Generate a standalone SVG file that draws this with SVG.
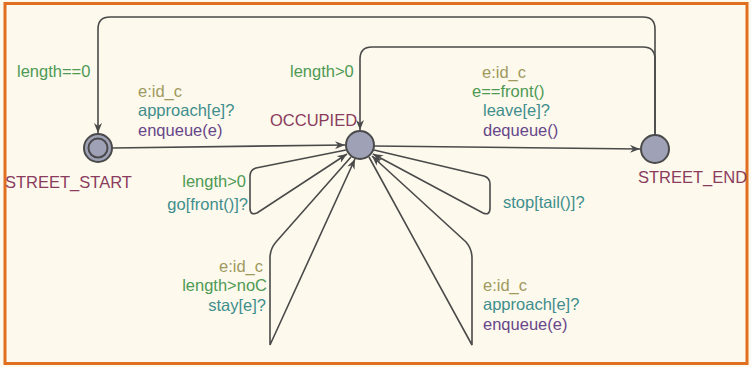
<svg xmlns="http://www.w3.org/2000/svg" width="751" height="367" viewBox="0 0 751 367">
<defs>
<style>
text{font-family:"Liberation Sans",Arial,sans-serif;font-size:16.5px}
.g{fill:#4e9a55}.o{fill:#a09a60}.t{fill:#3f8e8c}.p{fill:#67468a}.n{fill:#8a3c5e}
.e{fill:none;stroke:#4a4a4a;stroke-width:1.6;marker-end:url(#ah)}
.loc{fill:#9fa2b6;stroke:#4a4a4a;stroke-width:2}
</style>
<marker id="ah" viewBox="0 0 10 8" refX="10" refY="4" markerWidth="10" markerHeight="8" markerUnits="userSpaceOnUse" orient="auto">
<path d="M0,0 L10,4 L0,8 L3,4 Z" fill="#4a4a4a"/>
</marker>
</defs>
<rect x="0" y="0" width="751" height="367" fill="#fdf9ec"/>
<rect x="5" y="3.5" width="742" height="360" fill="none" stroke="#e07020" stroke-width="3"/>
<g id="connectors">
<path class="e" d="M112,148 L345,145"/>
<path class="e" d="M374,146 L640,149"/>
<path class="e" d="M655,135 V29 Q655,17 643,17 H110 Q98,17 98,29 V133"/>
<path class="e" d="M655,135 V59 Q655,47 643,47 H372 Q360,47 360,59 V130"/>
<path class="e" d="M346,150 L256,168 Q250,170 250,176 V208 Q250,216 257,213 L347,154"/>
<path class="e" d="M374,150 L484,176 Q490,178 490,184 V208 Q490,216 483,213 L373,154"/>
<path class="e" d="M351,157 L276,242 Q270,249 270,258 V345 L355,159"/>
<path class="e" d="M369,157 L472,345 V258 Q472,249 466,242 L372,156"/>
</g>
<g id="STREET_START">
<circle class="loc" cx="98" cy="148" r="14"/>
<circle class="loc" cx="98" cy="148" r="9.5"/>
<text class="n" x="5" y="188">STREET_START</text>
</g>
<g id="OCCUPIED">
<circle class="loc" cx="360" cy="145" r="14"/>
<text class="n" x="270" y="126">OCCUPIED</text>
</g>
<g id="STREET_END">
<circle class="loc" cx="655" cy="149" r="14"/>
<text class="n" x="638" y="183">STREET_END</text>
</g>
<g id="labels">
<text class="g" x="17" y="77">length==0</text>
<text class="o" x="138" y="97">e:id_c</text>
<text class="t" x="138" y="116">approach[e]?</text>
<text class="p" x="138" y="136">enqueue(e)</text>
<text class="g" x="290" y="77">length&gt;0</text>
<text class="o" x="482" y="78">e:id_c</text>
<text class="g" x="472" y="97">e==front()</text>
<text class="t" x="483" y="116">leave[e]?</text>
<text class="p" x="483" y="136">dequeue()</text>
<text class="g" x="246" y="187" text-anchor="end">length&gt;0</text>
<text class="t" x="248" y="210" text-anchor="end">go[front()]?</text>
<text class="t" x="503" y="208">stop[tail()]?</text>
<text class="o" x="263" y="272" text-anchor="end">e:id_c</text>
<text class="g" x="267" y="291" text-anchor="end">length&gt;noC</text>
<text class="t" x="266" y="311" text-anchor="end">stay[e]?</text>
<text class="o" x="483" y="291">e:id_c</text>
<text class="t" x="483" y="310">approach[e]?</text>
<text class="p" x="483" y="330">enqueue(e)</text>
</g>
</svg>
